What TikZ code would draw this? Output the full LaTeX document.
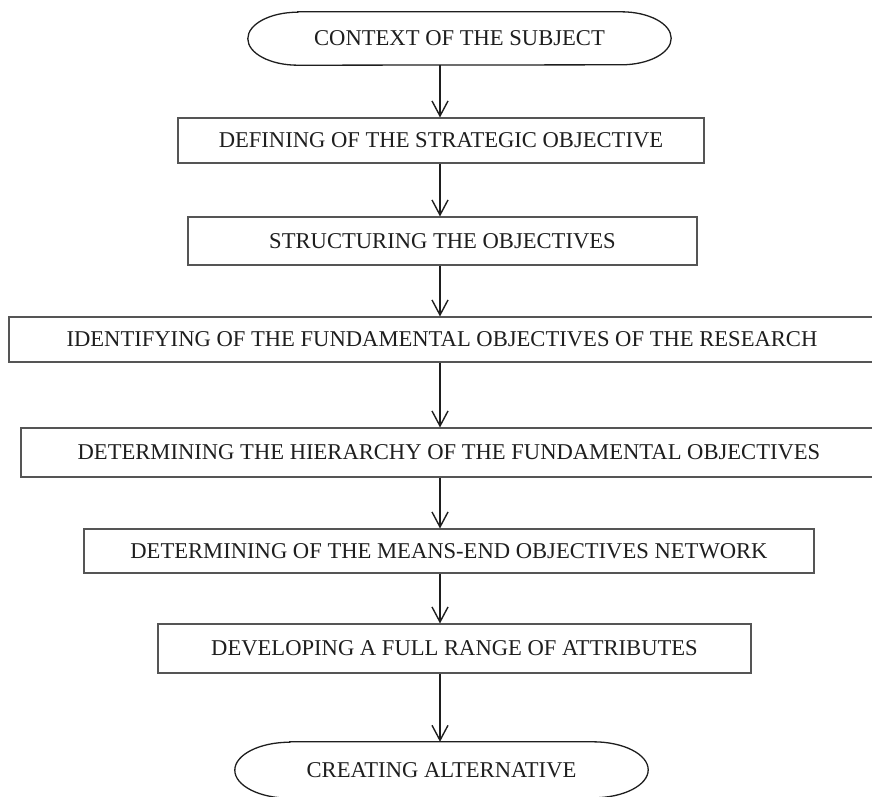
\documentclass[tikz,border=0pt]{standalone}
\usepackage{fontspec}
\setmainfont{Liberation Serif}
\usetikzlibrary{arrows.meta,calc}

\definecolor{boxline}{HTML}{555555}
\definecolor{ink}{HTML}{1E1E1E}

\tikzset{
  stepbox/.style={draw=boxline, line width=1.1pt, rectangle, inner sep=0pt,
    text=ink, font=\fontsize{22.6}{27}\selectfont},
  termbox/.style={rectangle, inner sep=0pt, text=ink,
    font=\fontsize{22.6}{27}\selectfont},
  termline/.style={draw=ink, line width=1.3pt},
  flow/.style={draw=ink, line width=1.4pt,
    -{Straight Barb[length=15pt,width=16pt,line width=1.4pt]}}
}

% draws the oval outline (straight top and bottom, half-elliptic ends) around a named node
\newcommand{\ovalaround}[3]{%
  \draw[termline] ($(#1.north west)+(#2,0)$) -- ($(#1.north east)+(-#2,0)$)
    arc[start angle=-90, end angle=90, x radius=#2, y radius=#3]
    -- ($(#1.south west)+(#2,0)$)
    arc[start angle=90, end angle=270, x radius=#2, y radius=#3] -- cycle;}

\begin{document}
\begin{tikzpicture}[x=1pt, y=-1pt]
  \useasboundingbox (0,0) rectangle (872,796);

  \coordinate (ax) at (440,0);

  % start and end ovals
  \node[termbox, minimum width=423pt, minimum height=53pt] (t1) at (459.5,38.5) {CONTEXT OF THE SUBJECT};
  \ovalaround{t1}{50}{26.5}

  \node[termbox, minimum width=413pt, minimum height=56pt] (t2) at (441.5,770) {CREATING ALTERNATIVE};
  \ovalaround{t2}{55}{28}

  % process steps
  \node[stepbox, minimum width=526pt, minimum height=45pt] (b1) at (441,140.5) {DEFINING OF THE STRATEGIC OBJECTIVE};
  \node[stepbox, minimum width=509pt, minimum height=48pt] (b2) at (442.5,241) {STRUCTURING THE OBJECTIVES};
  \node[stepbox, minimum width=866pt, minimum height=45pt] (b3) at (442,339.5) {IDENTIFYING OF THE FUNDAMENTAL OBJECTIVES OF THE RESEARCH};
  \node[stepbox, minimum width=856pt, minimum height=49pt] (b4) at (449,452.5) {DETERMINING THE HIERARCHY OF THE FUNDAMENTAL OBJECTIVES};
  \node[stepbox, minimum width=730pt, minimum height=44pt] (b5) at (449,551) {DETERMINING OF THE MEANS-END OBJECTIVES NETWORK};
  \node[stepbox, minimum width=593pt, minimum height=49pt] (b6) at (454.5,648.5) {DEVELOPING A FULL RANGE OF ATTRIBUTES};

  % connectors
  \draw[flow] (t1.south -| ax) -- (b1.north -| ax);
  \draw[flow] (b1.south -| ax) -- (b2.north -| ax);
  \draw[flow] (b2.south -| ax) -- (b3.north -| ax);
  \draw[flow] (b3.south -| ax) -- (b4.north -| ax);
  \draw[flow] (b4.south -| ax) -- (b5.north -| ax);
  \draw[flow] (b5.south -| ax) -- (b6.north -| ax);
  \draw[flow] (b6.south -| ax) -- (t2.north -| ax);
\end{tikzpicture}
\end{document}
